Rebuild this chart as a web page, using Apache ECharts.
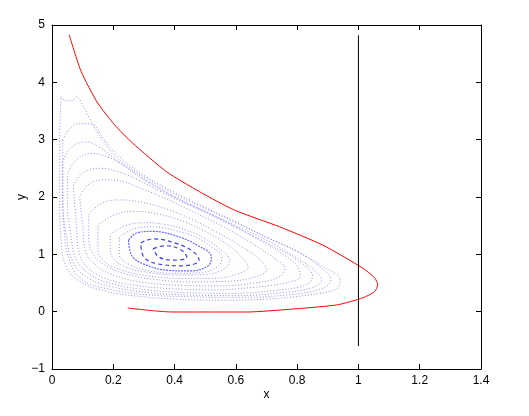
<!DOCTYPE html>
<html>
<head>
<meta charset="utf-8">
<script src="https://cdn.jsdelivr.net/npm/echarts@6/dist/echarts.min.js"></script>
<style>
  html, body { margin: 0; padding: 0; background: #fff; }
  #chart { width: 529px; height: 416px; }
</style>
</head>
<body>
<div id="chart"></div>
<script>
var xTicks = [0, 0.2, 0.4, 0.6, 0.8, 1, 1.2, 1.4];
var yTicks = [-1, 0, 1, 2, 3, 4, 5];

// red separatrix-like curve
var redCurve = [[0.056,4.83],[0.095,4.19],[0.149,3.64],[0.204,3.26],[0.263,2.94],[0.374,2.44],
  [0.482,2.09],[0.596,1.77],[0.743,1.48],[0.884,1.16],[1.014,0.76],[1.053,0.59],[1.063,0.47],
  [1.053,0.35],[1.014,0.24],[0.932,0.12],[0.808,0.055],[0.635,-0.006],[0.524,-0.006],
  [0.394,-0.006],[0.328,0.017],[0.247,0.064]];

// vertical black line at x = 1
var blackLine = [[1,-0.6],[1,4.82]];

// blue orbits, outer to inner
var orbit1 = [[0.03,3.75],[0.045,3.68],[0.065,3.68],[0.08,3.75],[0.1,3.6],[0.13,3.3],[0.17,2.95],
  [0.22,2.65],[0.3,2.35],[0.4,2.05],[0.5,1.8],[0.6,1.55],[0.7,1.3],[0.8,1.05],[0.88,0.8],[0.94,0.55],
  [0.93,0.4],[0.85,0.3],[0.7,0.22],[0.55,0.2],[0.4,0.22],[0.28,0.27],[0.18,0.35],[0.1,0.5],
  [0.05,0.75],[0.03,1.2],[0.025,2],[0.025,3],[0.03,3.75]];
var orbit2 = [[0.035,3.0],[0.06,3.2],[0.09,3.28],[0.13,3.27],[0.17,3.0],[0.22,2.7],[0.3,2.38],
  [0.4,2.08],[0.5,1.82],[0.6,1.57],[0.7,1.3],[0.8,1.05],[0.87,0.8],[0.91,0.55],[0.88,0.4],[0.78,0.3],
  [0.62,0.25],[0.45,0.26],[0.3,0.3],[0.18,0.4],[0.1,0.55],[0.06,0.85],[0.04,1.4],[0.035,2.2],[0.035,3.0]];
var orbit3 = [[0.035,2.6],[0.06,2.85],[0.11,2.96],[0.16,2.85],[0.22,2.6],[0.3,2.3],[0.4,2.0],
  [0.5,1.75],[0.6,1.5],[0.7,1.25],[0.78,1.0],[0.85,0.75],[0.88,0.55],[0.85,0.42],[0.75,0.33],
  [0.6,0.28],[0.45,0.29],[0.32,0.33],[0.2,0.43],[0.12,0.58],[0.07,0.85],[0.045,1.4],[0.035,2.0],[0.035,2.6]];
var orbit4 = [[0.05,2.4],[0.08,2.65],[0.13,2.76],[0.19,2.68],[0.25,2.5],[0.32,2.25],[0.42,1.95],
  [0.52,1.7],[0.62,1.42],[0.72,1.15],[0.8,0.9],[0.85,0.62],[0.83,0.47],[0.73,0.37],[0.58,0.32],
  [0.44,0.33],[0.31,0.38],[0.2,0.48],[0.13,0.63],[0.08,0.9],[0.06,1.4],[0.05,1.9],[0.05,2.4]];
var orbit5 = [[0.07,2.2],[0.1,2.42],[0.155,2.5],[0.21,2.45],[0.28,2.3],[0.36,2.08],[0.45,1.85],
  [0.55,1.6],[0.65,1.33],[0.74,1.05],[0.8,0.8],[0.81,0.62],[0.76,0.5],[0.65,0.42],[0.52,0.38],
  [0.39,0.4],[0.27,0.46],[0.18,0.57],[0.12,0.75],[0.09,1.0],[0.08,1.5],[0.07,2.2]];
var orbit6 = [[0.09,2.0],[0.12,2.22],[0.17,2.3],[0.23,2.27],[0.3,2.13],[0.38,1.95],[0.47,1.72],
  [0.56,1.48],[0.65,1.2],[0.72,0.95],[0.76,0.75],[0.74,0.6],[0.66,0.5],[0.55,0.45],[0.42,0.46],
  [0.3,0.51],[0.21,0.62],[0.15,0.78],[0.11,1.05],[0.1,1.5],[0.09,2.0]];
var orbit7 = [[0.12,1.7],[0.16,1.88],[0.22,1.95],[0.3,1.9],[0.38,1.78],[0.46,1.6],[0.54,1.38],
  [0.62,1.13],[0.68,0.9],[0.7,0.73],[0.66,0.6],[0.57,0.53],[0.45,0.52],[0.34,0.56],[0.24,0.66],
  [0.17,0.82],[0.13,1.05],[0.12,1.35],[0.12,1.7]];
var orbit8 = [[0.15,1.5],[0.2,1.68],[0.27,1.75],[0.35,1.7],[0.43,1.57],[0.5,1.4],[0.57,1.18],
  [0.62,0.95],[0.64,0.78],[0.6,0.65],[0.52,0.58],[0.42,0.58],[0.32,0.62],[0.23,0.72],[0.17,0.88],
  [0.15,1.1],[0.15,1.5]];
var orbit9 = [[0.19,1.35],[0.24,1.5],[0.3,1.55],[0.37,1.52],[0.44,1.42],[0.5,1.27],[0.55,1.08],
  [0.58,0.9],[0.56,0.74],[0.5,0.65],[0.41,0.64],[0.32,0.68],[0.24,0.78],[0.2,0.93],[0.19,1.1],[0.19,1.35]];
var orbit9b = [[0.22,1.3],[0.27,1.45],[0.33,1.48],[0.4,1.42],[0.47,1.3],[0.52,1.13],[0.555,0.95],
  [0.54,0.78],[0.48,0.68],[0.4,0.67],[0.31,0.72],[0.25,0.83],[0.22,1.0],[0.22,1.3]];
var orbit10 = [[0.25,1.25],[0.28,1.38],[0.33,1.4],[0.4,1.33],[0.47,1.17],[0.52,0.95],[0.51,0.8],
  [0.45,0.71],[0.38,0.72],[0.3,0.83],[0.26,0.98],[0.25,1.25]];
var orbit11 = [[0.29,1.2],[0.33,1.27],[0.4,1.2],[0.46,1.05],[0.48,0.9],[0.43,0.8],[0.36,0.82],
  [0.3,0.95],[0.29,1.2]];
var orbit12 = [[0.33,1.1],[0.37,1.15],[0.42,1.08],[0.44,0.95],[0.4,0.9],[0.35,0.95],[0.33,1.1]];

var outerOrbits = [orbit1, orbit2, orbit3, orbit4, orbit5, orbit6, orbit7, orbit8, orbit9, orbit9b];
var innerOrbits = [orbit10, orbit11, orbit12];

var myChart = echarts.init(document.getElementById('chart'));
var font = 'Liberation Sans, Arial, Helvetica, sans-serif';
var minus = function (v) { return String(v).replace('-', '\u2212'); };

var series = [];
outerOrbits.forEach(function (o) {
  series.push({
    type: 'line', data: o, smooth: 0.4, symbol: 'none', silent: true,
    lineStyle: { color: 'rgba(105,105,255,0.75)', width: 1, type: [1, 2] }
  });
});
innerOrbits.forEach(function (o, i) {
  series.push({
    type: 'line', data: o, smooth: 0.4, symbol: 'none', silent: true,
    lineStyle: { color: i == 0 ? 'rgba(80,80,255,0.85)' : 'rgba(40,40,235,0.9)', width: 1.2,
      type: i == 0 ? [2, 1] : [4, 3] }
  });
});
series.push({
  type: 'line', data: redCurve, smooth: 0.2, symbol: 'none',
  lineStyle: { color: '#ff0000', width: 1 }
});
series.push({
  type: 'line', data: blackLine, symbol: 'none',
  lineStyle: { color: '#000', width: 1 }
});

var tickStyle = { show: true, inside: true, length: 5, lineStyle: { color: '#000' } };
var lineStyle = { onZero: false, lineStyle: { color: '#000' } };
myChart.setOption({
  animation: false,
  grid: { left: 52, right: 48, top: 25, bottom: 47 },
  xAxis: [{
    type: 'value', min: xTicks[0], max: xTicks[xTicks.length - 1], interval: 0.2,
    name: 'x', nameLocation: 'middle', nameGap: 20, nameMoveOverlap: false,
    nameTextStyle: { color: '#000', fontSize: 12, fontFamily: font },
    axisLine: lineStyle, axisTick: tickStyle, splitLine: { show: false },
    axisLabel: { color: '#000', fontSize: 12, fontFamily: font, margin: 6 }
  }, {
    type: 'value', position: 'top', min: xTicks[0], max: xTicks[xTicks.length - 1], interval: 0.2,
    axisLine: lineStyle, axisTick: tickStyle, splitLine: { show: false },
    axisLabel: { show: false }
  }],
  yAxis: [{
    type: 'value', min: yTicks[0], max: yTicks[yTicks.length - 1], interval: 1,
    name: 'y', nameLocation: 'middle', nameGap: 24, nameMoveOverlap: false,
    nameTextStyle: { color: '#000', fontSize: 12, fontFamily: font },
    axisLine: lineStyle, axisTick: tickStyle, splitLine: { show: false },
    axisLabel: { color: '#000', fontSize: 12, fontFamily: font, margin: 7, formatter: minus }
  }, {
    type: 'value', position: 'right', min: yTicks[0], max: yTicks[yTicks.length - 1], interval: 1,
    axisLine: lineStyle, axisTick: tickStyle, splitLine: { show: false },
    axisLabel: { show: false }
  }],
  series: series
});
</script>
</body>
</html>
